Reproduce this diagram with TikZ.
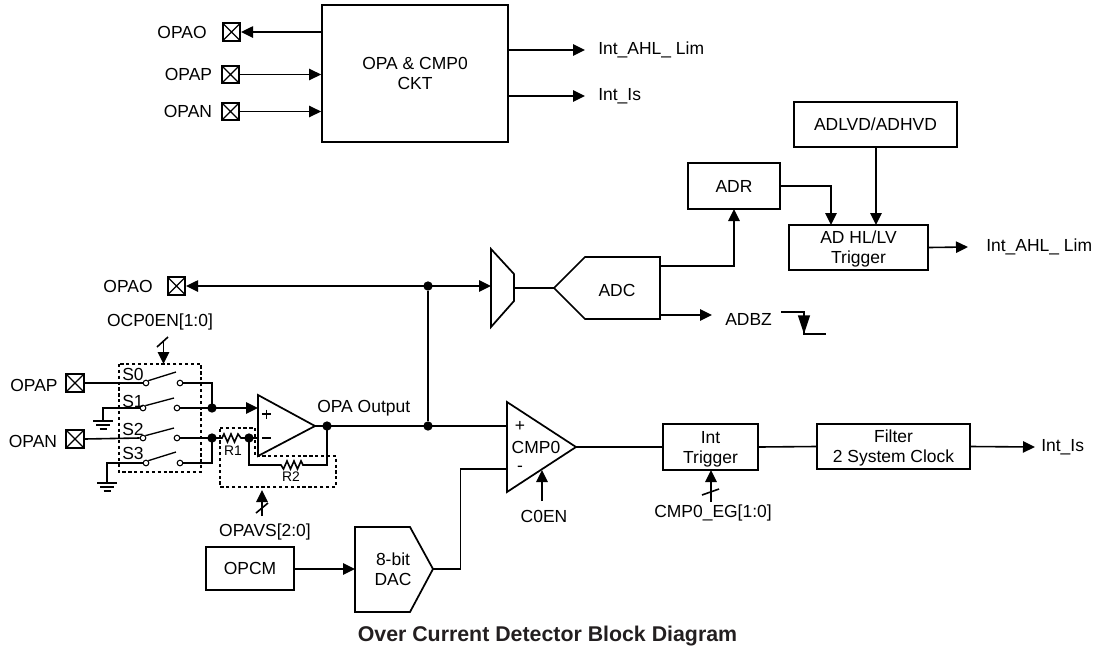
\documentclass[tikz,border=0pt]{standalone}
\usepackage{fontspec}
\setmainfont{Liberation Sans}
\usetikzlibrary{arrows.meta,calc}
\newcommand{\lowerline}{\rule{0pt}{12.4pt}}
\tikzset{
  wire/.style={line width=1.2pt,line cap=butt,line join=miter},
  sig/.style={wire,-{Triangle[length=9pt,width=8.5pt]}},
  block/.style={draw,line width=1.3pt,minimum width=#1,align=center,inner sep=0pt,font=\fontsize{13.1pt}{15pt}\selectfont},
  poly/.style={draw,line width=1.3pt,line join=miter},
  pad/.style={draw,line width=1.3pt,minimum size=13pt,inner sep=0pt,path picture={
     \draw[line width=1pt] (path picture bounding box.north west)--(path picture bounding box.south east)
     (path picture bounding box.north east)--(path picture bounding box.south west);}},
  dot/.style={circle,fill=black,minimum size=7pt,inner sep=0pt},
  term/.style={circle,draw,fill=white,line width=.8pt,minimum size=4.2pt,inner sep=0pt},
  lbl/.style={inner sep=0pt,font=\fontsize{13.1pt}{15pt}\selectfont,align=center},
  small/.style={inner sep=0pt,font=\fontsize{10.4pt}{12pt}\selectfont},
  dashbox/.style={draw,line width=.9pt,dash pattern=on 2.4pt off 2pt},
  gndl/.style={line width=1pt},
}
\definecolor{titlecol}{HTML}{231F20}
\begin{document}
\begin{tikzpicture}[x=.75pt,y=-.75pt]
\useasboundingbox (0,0) rectangle (1093,647);
% ---- top block
\node[block,minimum height=102.75pt,minimum width=139.5pt] (opa) at (415,73.5) {OPA \& CMP0\\CKT};
\node[pad] (pO1) at (231.5,32) {};
\node[pad] (pP1) at (230.5,74.5) {};
\node[pad] (pN1) at (230.5,111.5) {};
\node[lbl] (tO1) at (182,32) {OPAO};
\node[lbl] (tP1) at (188.5,74) {OPAP};
\node[lbl] (tN1) at (188,111) {OPAN};
\draw[sig] (opa.west|-pO1) -- (pO1.east);
\draw[sig] (pP1.east) -- (opa.west|-pP1);
\draw[sig] (pN1.east) -- (opa.west|-pN1);
\coordinate (e1) at (585,50); \coordinate (e2) at (585,96);
\draw[sig] (opa.east|-e1) -- (e1);
\draw[sig] (opa.east|-e2) -- (e2);
\node[lbl,anchor=west] (tA1) at (598,50) {Int\_AHL\_ Lim};
\node[lbl,anchor=west] (tI1) at (598,96) {Int\_Is};
% ---- AD blocks
\node[block,minimum width=122pt,minimum height=34pt] (adlvd) at (875.5,124.5) {ADLVD/ADHVD};
\node[block,minimum width=69pt,minimum height=34.5pt] (adr) at (734,186) {ADR};
\node[block,minimum width=104pt,minimum height=34pt] (trg) at (858.5,247.5) {\lowerline AD HL/LV\\Trigger};
\coordinate (tt1) at (876,225); \coordinate (tt2) at (831,225); \coordinate (e3) at (968,247);
\draw[sig] (adlvd.south-|tt1) -- (tt1);
\draw[sig] (adr.east) -| (tt2);
\draw[sig] (trg.east) -- (e3);
\node[lbl,anchor=west] (tA2) at (986,247) {Int\_AHL\_ Lim};
% ---- mux, ADC
\coordinate (m1) at (491,249); \coordinate (m2) at (514,274); \coordinate (m3) at (514,301); \coordinate (m4) at (491,327);
\coordinate (mi) at (491,286); \coordinate (mo) at (514,288);
\draw[poly] (m1)--(m2)--(m3)--(m4)--cycle;
\coordinate (a0) at (554,288); \coordinate (a1) at (585,257); \coordinate (a2) at (660,257); \coordinate (a3) at (660,319); \coordinate (a4) at (585,319);
\draw[poly] (a0)--(a1)--(a2)--(a3)--(a4)--cycle;
\node[lbl] (tADC) at (617,290) {ADC};
\draw[wire] (mo)--(a0);
\coordinate (ao1) at (660,266); \coordinate (ao2) at (660,315); \coordinate (e4) at (712,315);
\coordinate (ain) at (734,209);
\draw[sig] (ao1) -| (ain);
\draw[sig] (ao2) -- (e4);
\node[lbl,anchor=west] (tBZ) at (725,319) {ADBZ};
\coordinate (f1) at (781,312); \coordinate (f2) at (804,312); \coordinate (f3) at (804,334); \coordinate (f4) at (826,334);
\draw[line width=1.1pt] (f1)--(f2)--(f3)--(f4);
\draw[line width=1.1pt,-{Triangle[length=14pt,width=9pt]}] (f2)--(f3);
% ---- OPAO lower
\node[pad] (pO2) at (176.5,286) {};
\node[lbl] (tO2) at (128,286) {OPAO};
\node[dot] (j1) at (428,286) {};
\node[dot] (j2) at (428,426) {};
\draw[wire,{Triangle[length=9pt,width=8.5pt]}-{Triangle[length=9pt,width=8.5pt]}] (pO2.east) -- (mi);
\draw[wire] (j1)--(j2);
% ---- switches
\node[pad] (pP2) at (75,383) {};
\node[pad] (pN2) at (75,439) {};
\node[lbl] (tP2) at (34,385) {OPAP};
\node[lbl] (tN2) at (33,441) {OPAN};
\draw[dashbox] (119,364) rectangle (201,472);
\node[term] (s0a) at (146,383) {}; \node[term] (s0b) at (180,383) {};
\node[term] (s1a) at (143,408) {}; \node[term] (s1b) at (177,408) {};
\node[term] (s2a) at (143,438) {}; \node[term] (s2b) at (177,438) {};
\node[term] (s3a) at (146,463) {}; \node[term] (s3b) at (180,463) {};
\draw[line width=1pt] (s0a.north east)--(176,372);
\draw[line width=1pt] (s1a.north east)--(174,398);
\draw[line width=1pt] (s2a.north east)--(174,428);
\draw[line width=1pt] (s3a.north east)--(176,452);
\foreach \n/\y in {S0/374,S1/401,S2/429,S3/453} \node[lbl] (t\n) at (133,\y) {\n};
\node[dot] (jp) at (212,408) {};
\node[dot] (jn) at (212,438) {};
\node[dot] (jm) at (249,438) {};
\node[dot] (jo) at (327,426) {};
\draw[wire] (pP2.east)--(s0a.west);
\draw[wire] (pN2.east)--(s2a.west);
\draw[wire] (s0b.east)-|(jp.center);
\draw[wire] (s1b.east)--(jp.center);
\draw[wire] (s2b.east)--(jn.center);
\draw[wire] (s3b.east)-|(jn.center);
% grounds
\coordinate (g1) at (103,421); \coordinate (g2) at (107,483);
\draw[wire] (s1a.west)-|(g1);
\draw[wire] (s3a.west)-|(g2);
\foreach \g in {g1,g2}{
  \draw[gndl] ($(\g)+(-10,0)$)--($(\g)+(10,0)$) ($(\g)+(-7,4)$)--($(\g)+(7,4)$) ($(\g)+(-3.5,8)$)--($(\g)+(3.5,8)$);
}
% op amp
\coordinate (o1) at (258,395); \coordinate (o2) at (258,456); \coordinate (o3) at (315,426);
\coordinate (oin) at (258,408); \coordinate (oim) at (258,438);
\draw[poly] (o1)--(o3)--(o2)--cycle;
\draw[line width=1.1pt] (262,414)--(271,414) (266.5,409.5)--(266.5,418.5) (262,438)--(271,438);
\draw[sig] (jp.center)--(oin);
\draw[wire] (jm.center)--(oim);
\draw[wire] (o3)--(507,426);
\draw[wire] (jn.center)--(222,438) -- (224,434)--(227.5,442)--(231,434)--(234.5,442)--(238,434)--(241,438)--(jm.center);
\draw[wire] (jo.center)--(327,465)--(303,465)--(301,461)--(297.5,469)--(294,461)--(290.5,469)--(287,461)--(283.5,469)--(281,465)--(249,465)--(jm.center);
\draw[dashbox] (220,428)--(255,428)--(255,456)--(336,456)--(336,487)--(220,487)--cycle;
\node[small] (tR1) at (233,451) {R1};
\node[small] (tR2) at (291,477) {R2};
\node[lbl,anchor=west] (tOO) at (317,408) {OPA Output};
% buses
\node[lbl] (tOCP) at (160,322) {OCP0EN[1:0]};
\coordinate (b1) at (163.5,340); \coordinate (b2) at (163.5,364);
\draw[sig] (b1)--(b2);
\draw[wire] (157,347)--(168,337);
\node[lbl] (tVS) at (265,532) {OPAVS[2:0]};
\coordinate (b3) at (262,516); \coordinate (b4) at (262,490);
\draw[sig] (b3)--(b4);
\draw[wire] (256,513)--(268,503);
% CMP0
\coordinate (c1) at (507,402); \coordinate (c2) at (507,492); \coordinate (c3) at (576,447);
\coordinate (cm) at (507,469);
\draw[poly] (c1)--(c3)--(c2)--cycle;
\node[lbl] (tCMP) at (536,447) {CMP0};
\node[lbl] (tcp) at (520,426) {+};
\node[lbl] (tcm) at (520,469) {-};
\coordinate (ce) at (542,470); \coordinate (ce0) at (542,501);
\draw[sig] (ce0)--(ce);
\node[lbl] (tC0) at (544,516) {C0EN};
% trigger, filter
\node[block,minimum width=71.25pt,minimum height=34.5pt] (int) at (710.5,447) {\lowerline Int\\Trigger};
\node[block,minimum width=114.75pt,minimum height=33.75pt] (fil) at (893.5,446.5) {\lowerline Filter\\2 System Clock};
\draw[wire] (c3)--(int.west);
\draw[wire] (int.east)--(fil.west);
\coordinate (e5) at (1035,447);
\draw[sig] (fil.east)--(e5);
\node[lbl,anchor=west] (tI2) at (1041,447) {Int\_Is};
\node[lbl] (tEG) at (713,513) {CMP0\_EG[1:0]};
\coordinate (b5) at (711,502);
\coordinate (b6) at (711,470);
\draw[sig] (b5)--(b6);
\draw[wire] (702,495)--(719,489);
% OPCM, DAC
\node[block,minimum width=66pt,minimum height=32.25pt] (opcm) at (250,568.5) {OPCM};
\coordinate (d1) at (355,527); \coordinate (d2) at (410,527); \coordinate (d3) at (433,569); \coordinate (d4) at (410,612); \coordinate (d5) at (355,612); \coordinate (di) at (355,569);
\draw[poly] (d1)--(d2)--(d3)--(d4)--(d5)--cycle;
\node[lbl] (tDAC) at (393,569) {8-bit\\DAC};
\draw[sig] (opcm.east|-di)--(di);
\coordinate (dv) at (460.5,569);
\draw[wire] (d3)--(dv)|-(cm);
\node[inner sep=0pt,text=titlecol,font=\bfseries\fontsize{16pt}{18pt}\selectfont] (title) at (547.5,636) {Over Current Detector Block Diagram};
\end{tikzpicture}
\end{document}
